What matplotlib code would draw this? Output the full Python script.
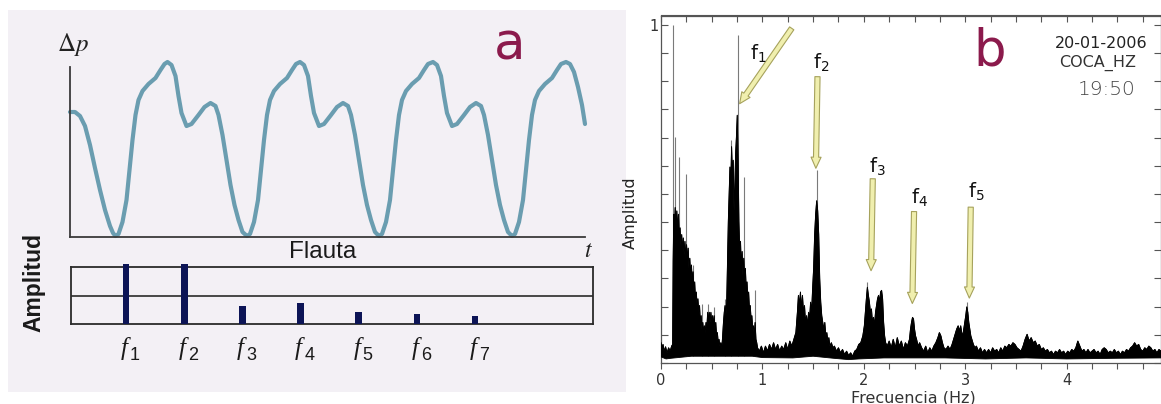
import matplotlib
matplotlib.use("Agg")
import matplotlib.pyplot as plt
from matplotlib.patches import Rectangle, FancyArrowPatch
from matplotlib.transforms import Affine2D
from matplotlib.ticker import MultipleLocator

# ---------------- panel a: flute pressure waveform (arbitrary units) ----------------
wave_t = [0, 5, 10, 15, 20, 25, 30, 35, 40, 43,
          45.5, 48.5, 52.5, 56.5, 59.5, 62.5, 65.5, 68.5, 72.5, 78.5, 85.5, 90.5, 94.5, 97.5,
          101.5, 105.5, 108.5, 111.5, 116.5, 121.5, 128.5, 134.5, 140.5, 145.5, 148.5, 152.5,
          156.5, 160.5, 164.5, 168.5, 172.5,
          177, 180, 184, 188, 191, 194, 197, 200, 204, 210, 217, 222, 226, 230, 234, 238, 241,
          244, 249, 254, 261, 267, 273, 278, 281, 285, 289, 293, 297, 301, 305,
          309, 312, 316, 320, 323, 326, 329, 332, 336, 342, 349, 354, 358, 363, 367, 371, 374,
          377, 382, 387, 394, 400, 406, 411, 414, 418, 422, 426, 430, 434, 438,
          442, 445, 449, 453, 456, 459, 462, 465, 469, 475, 482, 487, 491, 496, 500, 504, 508,
          512, 515]
wave_dp = [125, 125, 121, 111, 92, 69, 47, 27, 11, 4,
           1, 3, 15, 37, 67, 97, 122, 137, 146, 153, 159, 167, 173, 175,
           172, 161, 141, 124, 111, 113, 122, 130, 134, 131, 122, 102,
           77, 52, 32, 17, 5,
           1, 3, 15, 37, 67, 97, 122, 137, 146, 153, 159, 167, 173, 175, 172, 161, 141,
           124, 111, 113, 122, 130, 134, 131, 122, 102, 77, 52, 32, 17, 5,
           1, 3, 15, 37, 67, 97, 122, 137, 146, 153, 159, 167, 173, 175, 172, 161, 141,
           124, 111, 113, 122, 130, 134, 131, 122, 102, 77, 52, 32, 17, 5,
           1, 3, 15, 37, 67, 97, 122, 137, 146, 153, 159, 167, 173, 175, 173, 165, 150,
           132, 113]

# harmonic amplitudes of the flute spectrum
harmonic_n = [1, 2, 3, 4, 5, 6, 7]
harmonic_amp = [1.04, 1.04, 0.32, 0.365, 0.21, 0.18, 0.14]
harmonic_sub = ["1", "2", "3", "4", "5", "6", "7"]

# ---------------- panel b: tremor spectrum, COCA_HZ 20-01-2006 19:50 ----------------
env_hz = [0.000, 0.010, 0.020, 0.030, 0.045, 0.060, 0.075, 0.090, 0.105, 0.115,
          0.120, 0.126, 0.132, 0.140, 0.148, 0.156, 0.164, 0.172, 0.180, 0.188, 0.196, 0.204,
          0.212, 0.220, 0.228, 0.236, 0.244, 0.252, 0.260, 0.268, 0.276, 0.284, 0.292, 0.300,
          0.308, 0.316, 0.324, 0.332, 0.340, 0.348, 0.356, 0.364, 0.372, 0.380, 0.388, 0.396,
          0.404, 0.412, 0.420, 0.428, 0.436, 0.444, 0.452, 0.460, 0.468, 0.476, 0.484, 0.492,
          0.500, 0.508, 0.516, 0.524, 0.532, 0.540, 0.548, 0.556, 0.564, 0.572, 0.580, 0.590,
          0.600,
          0.608, 0.616, 0.624, 0.632, 0.640, 0.648, 0.656, 0.664, 0.672, 0.680, 0.688, 0.696,
          0.704, 0.712, 0.720, 0.728, 0.736, 0.744, 0.752, 0.760, 0.768, 0.776, 0.784, 0.792,
          0.800, 0.808, 0.816, 0.824, 0.832, 0.840, 0.848, 0.856, 0.864, 0.872, 0.880, 0.888,
          0.896, 0.904, 0.912, 0.920, 0.928, 0.936, 0.944, 0.952,
          0.97, 0.99, 1.01, 1.03, 1.05, 1.07, 1.09, 1.11, 1.13, 1.15, 1.17, 1.19, 1.21, 1.23,
          1.25, 1.27, 1.29, 1.31, 1.33,
          1.345, 1.355, 1.365, 1.375, 1.385, 1.395, 1.405, 1.415, 1.425, 1.435, 1.445, 1.455,
          1.465, 1.475, 1.485, 1.495, 1.505, 1.515, 1.525, 1.535, 1.545, 1.555, 1.565, 1.575,
          1.585, 1.595, 1.605, 1.615, 1.625, 1.635, 1.645, 1.655, 1.665, 1.680, 1.695,
          1.71, 1.73, 1.75, 1.77, 1.79, 1.81, 1.83, 1.85, 1.87, 1.89, 1.91, 1.93, 1.95, 1.97,
          1.99,
          2.005, 2.015, 2.025, 2.035, 2.045, 2.055, 2.065, 2.075, 2.085, 2.095, 2.105, 2.115,
          2.125, 2.135, 2.145, 2.155, 2.165, 2.175, 2.185, 2.195, 2.205, 2.215, 2.230,
          2.25, 2.27, 2.29, 2.31, 2.33, 2.35, 2.37, 2.39, 2.41, 2.43,
          2.450, 2.460, 2.470, 2.480, 2.490, 2.500, 2.510, 2.520, 2.535, 2.550,
          2.57, 2.59, 2.61, 2.63, 2.65, 2.67, 2.69, 2.71, 2.73, 2.745, 2.76, 2.775, 2.79, 2.81,
          2.83, 2.85, 2.87, 2.885,
          2.900, 2.915, 2.930, 2.945, 2.955, 2.965, 2.975, 2.985, 2.995, 3.005, 3.015, 3.025,
          3.035, 3.045, 3.055, 3.065, 3.080, 3.095, 3.110,
          3.13, 3.15, 3.17, 3.19, 3.21, 3.23, 3.25, 3.27, 3.29, 3.31, 3.33, 3.35, 3.37, 3.39,
          3.41, 3.43, 3.45, 3.47, 3.49, 3.51, 3.53, 3.55, 3.57, 3.59, 3.61, 3.63, 3.65, 3.67,
          3.69, 3.71, 3.73, 3.75, 3.77, 3.79, 3.81, 3.83, 3.85, 3.87, 3.89, 3.91, 3.93, 3.95,
          3.97, 3.99, 4.01, 4.03, 4.05, 4.07, 4.09, 4.11, 4.13, 4.15, 4.17, 4.19, 4.21, 4.23,
          4.25, 4.27, 4.29, 4.31, 4.33, 4.35, 4.37, 4.39, 4.41, 4.43, 4.45, 4.47, 4.49, 4.51,
          4.53, 4.55, 4.57, 4.59, 4.61, 4.63, 4.65, 4.67, 4.69, 4.71, 4.73, 4.75, 4.77, 4.79,
          4.81, 4.83, 4.85, 4.87, 4.89, 4.91, 4.93]
env_top = [0.060, 0.045, 0.055, 0.035, 0.048, 0.030, 0.045, 0.035, 0.050, 0.055,
           0.30, 0.44, 0.39, 0.46, 0.41, 0.45, 0.39, 0.44, 0.37, 0.40, 0.35, 0.38,
           0.33, 0.37, 0.32, 0.36, 0.31, 0.35, 0.30, 0.34, 0.28, 0.31, 0.26, 0.29,
           0.24, 0.27, 0.21, 0.24, 0.19, 0.21, 0.17, 0.19, 0.15, 0.17, 0.12, 0.14,
           0.10, 0.12, 0.09, 0.11, 0.09, 0.12, 0.10, 0.15, 0.12, 0.15, 0.12, 0.15,
           0.12, 0.14, 0.11, 0.14, 0.10, 0.12, 0.08, 0.09, 0.06, 0.07, 0.05, 0.06,
           0.045,
           0.08, 0.12, 0.15, 0.17, 0.14, 0.18, 0.30, 0.42, 0.50, 0.58, 0.52, 0.64,
           0.56, 0.60, 0.45, 0.52, 0.62, 0.67, 0.733, 0.60, 0.42, 0.33, 0.36, 0.28,
           0.33, 0.26, 0.31, 0.25, 0.28, 0.22, 0.24, 0.19, 0.21, 0.16, 0.17, 0.13,
           0.14, 0.10, 0.11, 0.08, 0.12, 0.07, 0.06, 0.045,
           0.035, 0.05, 0.03, 0.05, 0.035, 0.055, 0.04, 0.06, 0.04, 0.055, 0.035, 0.05, 0.04, 0.06,
           0.04, 0.065, 0.05, 0.07, 0.09,
           0.15, 0.20, 0.17, 0.21, 0.16, 0.20, 0.15, 0.17, 0.12, 0.14, 0.11, 0.15,
           0.13, 0.18, 0.15, 0.22, 0.28, 0.38, 0.44, 0.48, 0.45, 0.38, 0.25, 0.18,
           0.14, 0.12, 0.10, 0.12, 0.08, 0.09, 0.065, 0.075, 0.05, 0.06, 0.045,
           0.05, 0.035, 0.045, 0.03, 0.04, 0.025, 0.035, 0.022, 0.03, 0.02, 0.035, 0.04, 0.055, 0.06,
           0.08,
           0.11, 0.15, 0.19, 0.224, 0.20, 0.18, 0.15, 0.16, 0.12, 0.135, 0.11, 0.15,
           0.17, 0.19, 0.20, 0.18, 0.21, 0.215, 0.19, 0.12, 0.08, 0.06, 0.05,
           0.065, 0.045, 0.07, 0.045, 0.075, 0.05, 0.065, 0.04, 0.06, 0.05,
           0.07, 0.10, 0.12, 0.135, 0.13, 0.10, 0.08, 0.07, 0.05, 0.06,
           0.045, 0.035, 0.05, 0.03, 0.045, 0.035, 0.05, 0.06, 0.075, 0.09, 0.08, 0.06, 0.045, 0.04,
           0.05, 0.04, 0.055, 0.07,
           0.085, 0.10, 0.11, 0.095, 0.11, 0.09, 0.08, 0.10, 0.12, 0.14, 0.166, 0.15,
           0.12, 0.10, 0.08, 0.07, 0.055, 0.045, 0.05,
           0.035, 0.045, 0.03, 0.04, 0.03, 0.04, 0.03, 0.045, 0.035, 0.04, 0.03, 0.045, 0.035, 0.05,
           0.045, 0.055, 0.05, 0.06, 0.055, 0.045, 0.04, 0.035, 0.05, 0.07, 0.085, 0.065, 0.075, 0.06,
           0.065, 0.05, 0.055, 0.04, 0.045, 0.035, 0.04, 0.03, 0.035, 0.025, 0.035, 0.03, 0.04, 0.03,
           0.035, 0.025, 0.035, 0.03, 0.04, 0.035, 0.045, 0.065, 0.05, 0.035, 0.04, 0.03, 0.04, 0.03,
           0.035, 0.04, 0.03, 0.035, 0.025, 0.04, 0.045, 0.04, 0.03, 0.035, 0.03, 0.04, 0.03, 0.035,
           0.025, 0.035, 0.03, 0.04, 0.035, 0.045, 0.05, 0.06, 0.05, 0.055, 0.04, 0.035, 0.045, 0.04,
           0.05, 0.045, 0.035, 0.04, 0.03, 0.04, 0.035]
floor_hz = [0.0, 0.05, 0.10, 0.30, 0.60, 0.90, 1.00, 1.30, 1.50, 1.70, 1.85, 1.95,
            2.20, 2.50, 2.80, 3.20, 3.60, 4.00, 4.50, 4.93]
floor_amp = [0.018, 0.012, 0.014, 0.020, 0.020, 0.020, 0.016, 0.015, 0.020, 0.014,
             0.010, 0.012, 0.015, 0.015, 0.015, 0.012, 0.015, 0.012, 0.014, 0.015]

# narrow spectral lines rising above the dense part of the spectrum
spike_hz = [0.122, 0.140, 0.176, 0.250, 0.318, 0.400, 0.468, 0.522, 0.632, 0.690,
            0.757, 0.822, 0.928, 1.537, 2.036, 3.016]
spike_amp = [1.00, 0.67, 0.61, 0.56, 0.29, 0.175, 0.175, 0.165, 0.19, 0.66,
             0.97, 0.55, 0.215, 0.57, 0.24, 0.18]

# harmonic markers f1..f5: arrow tail, arrow tip and label anchor (Hz, amplitude)
peak_sub = ["1", "2", "3", "4", "5"]
arrow_tail = [(1.289, 0.990), (1.543, 0.847), (2.088, 0.545), (2.495, 0.448), (3.054, 0.461)]
arrow_tip = [(0.775, 0.767), (1.527, 0.576), (2.071, 0.273), (2.478, 0.176), (3.040, 0.192)]
label_at = [(0.878, 0.896), (1.499, 0.872), (2.051, 0.564), (2.465, 0.472), (3.028, 0.490)]

# ------------------------------------------------------------------------------------
W, H = 1161, 404
fig = plt.figure(figsize=(W / 100, H / 100), dpi=100)
fig.patch.set_facecolor("white")
px = Affine2D().scale(1 / W, -1 / H).translate(0, 1) + fig.transFigure


def frame(left, top, right, bottom):
    return [left / W, 1 - bottom / H, (right - left) / W, (bottom - top) / H]


maroon = "#8b1a4c"

# lavender card behind panel a
fig.patches.append(Rectangle((8, 10), 618, 382, transform=px, facecolor="#f3f0f5",
                             edgecolor="none", zorder=-10))

# --- waveform ---
ax_w = fig.add_axes(frame(70, 62, 585, 237))
ax_w.set_zorder(2)
ax_w.patch.set_visible(False)
ax_w.set_xlim(0, 515)
ax_w.set_ylim(0, 175)
ax_w.plot(wave_t, wave_dp, color="#6a9db0", lw=3.0, solid_joinstyle="round",
          solid_capstyle="round", clip_on=False)
for s in ("top", "right"):
    ax_w.spines[s].set_visible(False)
for s in ("left", "bottom"):
    ax_w.spines[s].set_color("#3a3a3a")
    ax_w.spines[s].set_linewidth(1.3)
ax_w.spines["left"].set_bounds(0, 170)
ax_w.set_xticks([])
ax_w.set_yticks([])

fig.text(73, 44, r"$\Delta p$", transform=px, fontsize=18, ha="center", va="center",
         math_fontfamily="stix", color="#222222")
fig.text(588, 250, r"$t$", transform=px, fontsize=17, ha="center", va="center",
         math_fontfamily="stix", color="#222222")
fig.text(510, 60, "a", transform=px, fontsize=37, color=maroon, ha="center",
         va="baseline", family="DejaVu Sans")
fig.text(323, 252, "Flauta", transform=px, fontsize=17.5, ha="center", va="center",
         family="Liberation Sans", color="#1a1a1a")
fig.text(34, 283, "Amplitud", transform=px, fontsize=16.5, rotation=90, ha="center",
         va="center", family="Liberation Sans", fontweight="bold", color="#1a1a1a")

# --- harmonic amplitude box ---
ax_s = fig.add_axes(frame(70.5, 266.7, 592.6, 324.3))
ax_s.set_zorder(2)
ax_s.patch.set_visible(False)
ax_s.set_xlim(0.046, 9.02)
ax_s.set_ylim(0, 1)
ax_s.axhline(0.49, color="#2a2a2a", lw=1.2)
for s in ax_s.spines.values():
    s.set_color("#2a2a2a")
    s.set_linewidth(1.3)
ax_s.set_xticks([])
ax_s.set_yticks([])
ax_s.bar(harmonic_n, harmonic_amp, width=0.115, color="#0c1456", clip_on=False, zorder=3)
for n, sub in zip(harmonic_n, harmonic_sub):
    ax_s.annotate("f", xy=(n, 0), xycoords=("data", "axes fraction"),
                  xytext=(-1.4, -22.1), textcoords="offset points", ha="center",
                  va="baseline", fontsize=18, family="Liberation Serif",
                  style="italic", color="#1a1a1a", annotation_clip=False)
    ax_s.annotate(sub, xy=(n, 0), xycoords=("data", "axes fraction"),
                  xytext=(6.5, -25.7), textcoords="offset points", ha="center",
                  va="baseline", fontsize=13, family="Liberation Sans",
                  color="#1a1a1a", annotation_clip=False)

# --- tremor spectrum ---
ax_b = fig.add_axes(frame(661, 15.5, 1161, 363))
ax_b.set_xlim(0, 4.93)
ax_b.set_ylim(0, 1.028)
poly_x = list(env_hz) + list(floor_hz[::-1])
poly_y = list(env_top) + list(floor_amp[::-1])
ax_b.vlines(spike_hz, 0.02, spike_amp, colors="#7a7a7a", lw=0.8, zorder=2)
ax_b.fill(poly_x, poly_y, color="black", lw=0.6, zorder=3)
ax_b.plot(env_hz, env_top, color="black", lw=0.7, zorder=3)

for tail, tip in zip(arrow_tail, arrow_tip):
    ax_b.add_patch(FancyArrowPatch(
        tail, tip, arrowstyle="simple,head_length=0.8,head_width=0.72,tail_width=0.37",
        mutation_scale=10, facecolor="#f0efae", edgecolor="#a6a25c", lw=0.8,
        shrinkA=0, shrinkB=0, zorder=5))
for (lx, ly), sub in zip(label_at, peak_sub):
    ax_b.text(lx, ly, r"$\mathregular{f_{%s}}$" % sub, fontsize=14, ha="left",
              va="baseline", math_fontfamily="dejavusans", color="#111111", zorder=6)

spine_c = "#555555"
for s in ax_b.spines.values():
    s.set_color(spine_c)
    s.set_linewidth(0.9)
ax_b.set_xticks([0, 1, 2, 3, 4])
ax_b.xaxis.set_minor_locator(MultipleLocator(0.25))
ax_b.tick_params(axis="x", which="both", direction="out", length=4, width=0.8,
                 color=spine_c, labelsize=10.5, labelcolor="#333333", pad=3)
ax_b.set_yticks([i / 12 for i in range(13)])
ax_b.set_yticklabels([""] * 12 + ["1"])
ax_b.tick_params(axis="y", which="both", direction="in", length=5, width=0.8,
                 color=spine_c, left=True, right=True, labelsize=10.5,
                 labelcolor="#333333", pad=2)
top = ax_b.secondary_xaxis("top")
top.set_xticks([0, 1, 2, 3, 4])
top.xaxis.set_minor_locator(MultipleLocator(0.25))
top.tick_params(axis="x", which="both", direction="in", length=5, width=0.8,
                color=spine_c, labeltop=False)
top.spines["top"].set_color(spine_c)

fig.text(913, 398, "Frecuencia (Hz)", transform=px, fontsize=11.5, ha="center",
         va="center", color="#333333")
fig.text(630, 213, "Amplitud", transform=px, fontsize=11.5, rotation=90, ha="center",
         va="center", color="#222222")
fig.text(990, 65, "b", transform=px, fontsize=37, color=maroon, ha="center",
         va="baseline", family="DejaVu Sans")
fig.text(1101, 43, "20-01-2006", transform=px, fontsize=11.5, ha="center", va="center",
         color="#222222")
fig.text(1098, 63, "COCA_HZ", transform=px, fontsize=11.5, ha="center", va="center",
         color="#333333")
fig.text(1107, 89.5, "19:50", transform=px, fontsize=14.5, ha="center", va="center",
         color="#444444", fontweight="light")

fig.savefig("out.png", dpi=100)
